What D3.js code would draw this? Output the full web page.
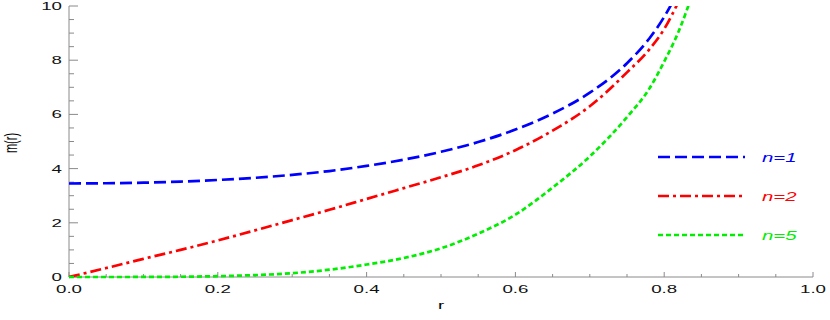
<!DOCTYPE html>
<html>
<head>
<meta charset="utf-8">
<script src="https://cdn.jsdelivr.net/npm/d3@7"></script>
<style>
  body { margin: 0; background: #fff; }
  text { font-family: "Liberation Sans", Arial, sans-serif; }
</style>
</head>
<body>
<div id="chart"></div>
<script>
// data
const rGrid = [0, 0.05, 0.1, 0.15, 0.2, 0.25, 0.3, 0.35, 0.4, 0.45, 0.5, 0.55, 0.6, 0.65, 0.7, 0.75, 0.78, 0.8, 0.82];
const mN1 = [3.45, 3.46, 3.48, 3.52, 3.58, 3.66, 3.77, 3.91, 4.1, 4.33, 4.62, 4.98, 5.44, 6.03, 6.8, 7.89, 8.8, 9.6, 10.6];
const mN2 = [0, 0.33, 0.67, 1.0, 1.35, 1.72, 2.1, 2.48, 2.88, 3.28, 3.68, 4.12, 4.68, 5.4, 6.3, 7.55, 8.4, 9.15, 10.2];
const rN5 = [0, 0.05, 0.1, 0.15, 0.2, 0.25, 0.3, 0.35, 0.4, 0.45, 0.5, 0.55, 0.6, 0.65, 0.7, 0.75, 0.78, 0.8, 0.82, 0.84];
const mN5 = [0, 0, 0.002, 0.01, 0.03, 0.07, 0.14, 0.27, 0.46, 0.7, 1.06, 1.6, 2.3, 3.3, 4.45, 5.9, 6.95, 7.95, 9.1, 10.6];

const seriesNames = ["n=1", "n=2", "n=5"];
const xTicks = [0, 0.2, 0.4, 0.6, 0.8, 1.0];
const yTicks = [0, 2, 4, 6, 8, 10];

let W = 830, H = 320;
let plotL = 69, plotR = 813, plotT = 6, plotB = 277;

let svg = d3.select("#chart").append("svg")
    .attr("width", W)
    .attr("height", H);

let x = d3.scaleLinear().domain([0, 1]).range([plotL, plotR]);
let y = d3.scaleLinear().domain([0, 10]).range([plotB, plotT]);

const axisColor = "#8a8a8a";
const stretch = 1.7; // the original figure text is stretched horizontally

function stretchedText(g, px, py, str, anchor) {
    return g.append("text")
        .attr("transform", "translate(" + px + "," + py + ") scale(" + stretch + ",1)")
        .attr("text-anchor", anchor)
        .text(str);
}

// AXES //
let xMinor = d3.range(0, 1.0001, 0.05);
let yMinor = d3.range(0, 10.0001, 0.5);

let axes = svg.append("g");
axes.append("line")
    .attr("x1", plotL).attr("x2", plotR).attr("y1", plotB).attr("y2", plotB)
    .attr("stroke", axisColor).attr("stroke-width", 1);
axes.append("line")
    .attr("x1", plotL).attr("x2", plotL).attr("y1", plotB).attr("y2", plotT)
    .attr("stroke", axisColor).attr("stroke-width", 1);

// x ticks point up into the plot
axes.selectAll(".xminor").data(xMinor).enter().append("line")
    .attr("x1", d => x(d)).attr("x2", d => x(d))
    .attr("y1", plotB).attr("y2", d => plotB - (xTicks.some(t => Math.abs(t - d) < 1e-6) ? 5 : 3))
    .attr("stroke", axisColor);
// y ticks point right into the plot
axes.selectAll(".yminor").data(yMinor).enter().append("line")
    .attr("y1", d => y(d)).attr("y2", d => y(d))
    .attr("x1", plotL).attr("x2", d => plotL + (yTicks.includes(d) ? 9 : 5))
    .attr("stroke", axisColor);

// tick labels
let labels = svg.append("g").style("font-size", "11px").attr("fill", "#111");
xTicks.forEach(t => stretchedText(labels, x(t), 293, t.toFixed(1), "middle"));
yTicks.forEach(t => stretchedText(labels, 62, y(t) + 4, String(t), "end"));

// axis titles
stretchedText(svg.append("g").style("font-size", "11px"), 441, 309, "r", "middle");
svg.append("text")
    .attr("transform", "translate(17,143) scale(" + stretch + ",1) rotate(-90)")
    .attr("text-anchor", "middle")
    .style("font-size", "11px")
    .text("m(r)");

// CURVES //
svg.append("clipPath").attr("id", "plotclip")
    .append("rect").attr("x", plotL).attr("y", plotT).attr("width", plotR - plotL + 2).attr("height", plotB - plotT + 3);

let lineGen = d3.line()
    .x(d => x(d[0]))
    .y(d => y(d[1]))
    .curve(d3.curveMonotoneX);

let curves = [
    { name: seriesNames[0], pts: d3.zip(rGrid, mN1), color: "#0000ff", dash: "12,5" },
    { name: seriesNames[1], pts: d3.zip(rGrid, mN2), color: "#ff0000", dash: "11,4,3,4" },
    { name: seriesNames[2], pts: d3.zip(rN5, mN5), color: "#00ee00", dash: "5,3" }
];

svg.append("g").attr("clip-path", "url(#plotclip)")
    .selectAll("path").data(curves).enter().append("path")
    .attr("d", d => lineGen(d.pts))
    .attr("fill", "none")
    .attr("stroke", d => d.color)
    .attr("stroke-width", 2.7)
    .attr("stroke-dasharray", d => d.dash);

// LEGEND //
let legend = svg.append("g");
curves.forEach((c, i) => {
    let ly = 157 + i * 39;
    legend.append("line")
        .attr("x1", 658).attr("x2", 745).attr("y1", ly).attr("y2", ly)
        .attr("stroke", c.color).attr("stroke-width", 2.7)
        .attr("stroke-dasharray", c.dash);
    stretchedText(legend, 762, ly + 5, c.name, "start")
        .attr("fill", c.color)
        .style("font-size", "12px")
        .style("font-style", "italic");
});
</script>
</body>
</html>
